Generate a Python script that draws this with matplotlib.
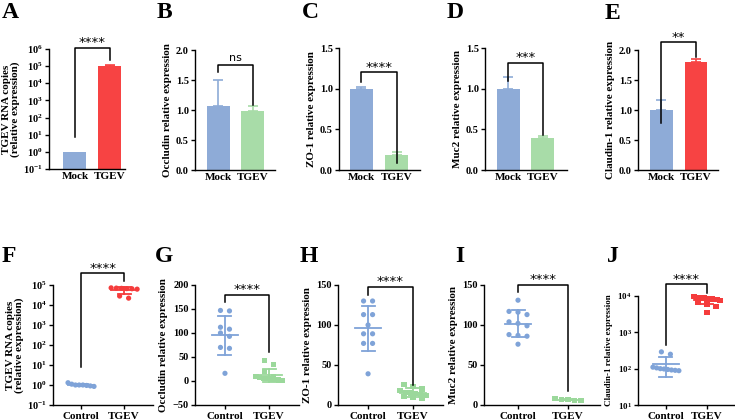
import numpy as np
import matplotlib
matplotlib.use("Agg")
import matplotlib.pyplot as plt

# =========================
# fonts
# =========================
plt.rcParams['font.family'] = 'Liberation Serif'
plt.rcParams['font.weight'] = 'bold'
plt.rcParams['axes.labelweight'] = 'bold'
plt.rcParams['mathtext.fontset'] = 'custom'
plt.rcParams['mathtext.rm'] = 'Liberation Serif:bold'
plt.rcParams['mathtext.bf'] = 'Liberation Serif:bold'
plt.rcParams['mathtext.it'] = 'Liberation Serif:bold'
plt.rcParams['axes.linewidth'] = 1.0

W, H = 735, 420
BLUE = '#8eabd7'
RED = '#f74343'
GREEN = '#a8dca8'
DBLUE = '#7fa3d8'
DGREEN = '#9bd89b'
DRED = '#f53c3c'

# =========================
# data - top row (bars, mean + SD)
# =========================
bar_groups = ["Mock", "TGEV"]
a_mean = [1.0, 1.05e5]
a_err = [0.0, 0.15e5]
b_mean = [1.06, 0.98]
b_err = [0.44, 0.08]
c_mean = [1.0, 0.19]
c_err = [0.02, 0.03]
d_mean = [1.0, 0.39]
d_err = [0.14, 0.03]
e_mean = [1.0, 1.80]
e_err = [0.16, 0.05]

# =========================
# data - bottom row (individual points)
# =========================
dot_groups = ["Control", "TGEV"]
f_ctrl = [1.0, 1.3, 1.1, 0.95, 1.0, 0.85, 0.9, 1.0]
f_tgev = [6.8e4, 7.0e4, 6.5e4, 6.2e4, 7.2e4, 6.6e4, 2.8e4, 2.2e4]
g_ctrl = [146, 147, 112, 108, 100, 93, 70, 68, 16]
g_tgev = [43, 34, 20, 10, 9, 8, 6, 5, 4, 3, 2, 1]
h_ctrl = [130, 130, 113, 113, 100, 89, 89, 77, 77, 39]
h_tgev = [26, 23, 20, 18, 16, 15, 14, 13, 12, 11, 9, 8]
i_ctrl = [131, 113, 116, 117, 99, 102, 104, 88, 87, 86, 76]
i_tgev = [7, 8, 6, 7, 6]
j_ctrl = [290, 250, 110, 105, 100, 98, 95, 92, 90, 88]
j_tgev = [9500, 9200, 9000, 8800, 8800, 8600, 8500, 8300, 8200, 8000,
          7500, 6500, 6000, 5200, 3600]

# bracket (left leg bottom, top, right leg bottom) and label
sig = {
    'A': (7.8, 1.2e6, 2.3e5, '****'),
    'B': (1.63, 1.75, 1.08, 'ns'),
    'C': (1.08, 1.2, 0.08, '****'),
    'D': (1.1, 1.32, 0.43, '***'),
    'E': (0.78, 2.13, 1.88, '**'),
    'F': (10**0.92, 10**5.58, 10**5.2, '****'),
    'G': (165, 179, 61, '****'),
    'H': (138, 148, 25, '****'),
    'I': (141, 150, 17, '****'),
    'J': (10**2.65, 10**4.32, 10**4.09, '****'),
}

fig = plt.figure(figsize=(W / 100, H / 100), dpi=100)


def add_ax(l, r, t, b):
    return fig.add_axes([l / W, 1 - b / H, (r - l) / W, (b - t) / H])


def style(ax, xt_len):
    ax.spines['top'].set_visible(False)
    ax.spines['right'].set_visible(False)
    ax.tick_params(axis='y', direction='out', length=3, width=1, labelsize=7.5, pad=1.5)
    ax.tick_params(axis='x', direction='out', length=xt_len, width=1, labelsize=8, pad=2)
    ax.minorticks_off()


def log_ticks(ax, lo, hi):
    ex = list(range(lo, hi + 1))
    ax.set_yticks([10.0 ** e for e in ex])
    ax.set_yticklabels([r'$\mathbf{10^{%d}}$' % e for e in ex])
    ax.minorticks_off()


def bracket(ax, key):
    yl, yt, yr, txt = sig[key]
    ax.plot([0, 0, 1, 1], [yl, yt, yt, yr], color='black', lw=1.1, clip_on=False, zorder=5)
    if txt == 'ns':
        ax.annotate(txt, xy=(0.5, yt), xytext=(0, 1.5), textcoords='offset points',
                    ha='center', va='bottom', fontsize=8, family='DejaVu Sans',
                    weight='normal', annotation_clip=False)
    else:
        ax.annotate(txt, xy=(0.5, yt), xytext=(0, -1), textcoords='offset points',
                    ha='center', va='bottom', fontsize=9.5, family='DejaVu Sans',
                    weight='normal', annotation_clip=False)


def bars(ax, mean, err, colors, bottom=0.0):
    x = np.arange(len(mean))
    for xi, m, e, c in zip(x, mean, err, colors):
        ax.bar(xi, m - bottom, bottom=bottom, width=0.66, color=c, edgecolor='none', zorder=2)
        if e > 0:
            ax.errorbar(xi, m, yerr=[[0], [e]], fmt='none', ecolor=c, elinewidth=1.2,
                        capsize=3.5, capthick=1.2, zorder=1)
    ax.set_xticks(x)
    ax.set_xticklabels(bar_groups)


def swarm_x(ax, xc, vals, row_h=5.0, step=9.0, max_w=26.0):
    vals = np.asarray(vals, float)
    pts = ax.transData.transform(np.column_stack([np.full(len(vals), xc), vals]))
    order = np.argsort(-pts[:, 1], kind='stable')
    rows, cur = [], [order[0]]
    for i in order[1:]:
        if pts[cur[0], 1] - pts[i, 1] <= row_h:
            cur.append(i)
        else:
            rows.append(cur)
            cur = [i]
    rows.append(cur)
    offs = np.zeros(len(vals))
    for r in rows:
        n = len(r)
        s = step if n < 2 else min(step, max_w / (n - 1))
        for k, i in enumerate(r):
            offs[i] = (k - (n - 1) / 2) * s
    pts[:, 0] += offs
    return ax.transData.inverted().transform(pts)[:, 0]


def dots(ax, ctrl, tgev, c1, c2, m2):
    ppu = ax.transData.transform((1, 0))[0] - ax.transData.transform((0, 0))[0]
    for xc, vals, c, m in [(0, ctrl, c1, 'o'), (1, tgev, c2, m2)]:
        xs = swarm_x(ax, xc, vals)
        ax.scatter(xs, vals, s=14, marker=m, color=c, edgecolors='none', zorder=3, clip_on=False)
        mu = np.mean(vals)
        sd = np.std(vals, ddof=1)
        mw = 13 / ppu
        cw = 6.5 / ppu
        ax.plot([xc - mw, xc + mw], [mu, mu], color=c, lw=1.3, zorder=4)
        ax.plot([xc, xc], [mu - sd, mu + sd], color=c, lw=1.3, zorder=4)
        ax.plot([xc - cw, xc + cw], [mu + sd, mu + sd], color=c, lw=1.3, zorder=4)
        ax.plot([xc - cw, xc + cw], [mu - sd, mu - sd], color=c, lw=1.3, zorder=4)
    ax.set_xticks([0, 1])
    ax.set_xticklabels(dot_groups)


# =========================
# top row
# =========================
axA = add_ax(49, 125, 49, 169)
axA.set_yscale('log')
axA.set_ylim(1e-1, 1e6)
axA.set_xlim(-0.74, 1.43)
bars(axA, a_mean, a_err, [BLUE, RED], bottom=1e-1)
log_ticks(axA, -1, 6)
style(axA, 0)
axA.set_ylabel('TGEV RNA copies\n(relative expression)', fontsize=8, labelpad=2, linespacing=1.0)
bracket(axA, 'A')

axB = add_ax(195, 275, 50, 170)
axB.set_ylim(0, 2.0)
axB.set_xlim(-0.69, 1.66)
bars(axB, b_mean, b_err, [BLUE, GREEN])
axB.set_yticks([0, 0.5, 1.0, 1.5, 2.0])
axB.set_yticklabels(['0.0', '0.5', '1.0', '1.5', '2.0'])
style(axB, 0)
axB.set_ylabel('Occludin relative expression', fontsize=8, labelpad=3)
bracket(axB, 'B')

axC = add_ax(339, 420, 48, 170)
axC.set_ylim(0, 1.5)
axC.set_xlim(-0.64, 1.67)
bars(axC, c_mean, c_err, [BLUE, GREEN])
axC.set_yticks([0, 0.5, 1.0, 1.5])
axC.set_yticklabels(['0.0', '0.5', '1.0', '1.5'])
style(axC, 0)
axC.set_ylabel('ZO-1 relative expression', fontsize=8, labelpad=3)
bracket(axC, 'C')

axD = add_ax(485, 567, 48, 170)
axD.set_ylim(0, 1.5)
axD.set_xlim(-0.69, 1.72)
bars(axD, d_mean, d_err, [BLUE, GREEN])
axD.set_yticks([0, 0.5, 1.0, 1.5])
axD.set_yticklabels(['0.0', '0.5', '1.0', '1.5'])
style(axD, 0)
axD.set_ylabel('Muc2 relative expression', fontsize=8, labelpad=3)
bracket(axD, 'D')

axE = add_ax(638, 718, 50, 170)
axE.set_ylim(0, 2.0)
axE.set_xlim(-0.68, 1.64)
bars(axE, e_mean, e_err, [BLUE, RED])
axE.set_yticks([0, 0.5, 1.0, 1.5, 2.0])
axE.set_yticklabels(['0.0', '0.5', '1.0', '1.5', '2.0'])
style(axE, 0)
axE.set_ylabel('Claudin-1 relative expression', fontsize=8, labelpad=3)
bracket(axE, 'E')

# =========================
# bottom row
# =========================
axF = add_ax(53, 153, 285, 405)
axF.set_yscale('log')
axF.set_ylim(1e-1, 1e5)
axF.set_xlim(-0.65, 1.67)
log_ticks(axF, -1, 5)
dots(axF, f_ctrl, f_tgev, DBLUE, DRED, 'o')
style(axF, 3)
axF.set_ylabel('TGEV RNA copies\n(relative expression)', fontsize=8, labelpad=2, linespacing=1.0)
bracket(axF, 'F')

axG = add_ax(195, 299, 285, 405)
axG.set_ylim(-50, 200)
axG.set_xlim(-0.68, 1.68)
axG.set_yticks([-50, 0, 50, 100, 150, 200])
dots(axG, g_ctrl, g_tgev, DBLUE, DGREEN, 's')
style(axG, 3)
axG.set_ylabel('Occludin relative expression', fontsize=8, labelpad=3)
bracket(axG, 'G')

axH = add_ax(338, 443, 285, 405)
axH.set_ylim(0, 150)
axH.set_xlim(-0.67, 1.67)
axH.set_yticks([0, 50, 100, 150])
dots(axH, h_ctrl, h_tgev, DBLUE, DGREEN, 's')
style(axH, 3)
axH.set_ylabel('ZO-1 relative expression', fontsize=8, labelpad=3)
bracket(axH, 'H')

axI = add_ax(484, 600, 285, 405)
axI.set_ylim(0, 150)
axI.set_xlim(-0.68, 1.64)
axI.set_yticks([0, 50, 100, 150])
dots(axI, i_ctrl, i_tgev, DBLUE, DGREEN, 's')
style(axI, 3)
axI.set_ylabel('Muc2 relative expression', fontsize=8, labelpad=3)
bracket(axI, 'I')

axJ = add_ax(638, 734, 296, 405)
axJ.set_yscale('log')
axJ.set_ylim(1e1, 1e4)
axJ.set_xlim(-0.68, 1.66)
log_ticks(axJ, 1, 4)
dots(axJ, j_ctrl, j_tgev, DBLUE, DRED, 's')
style(axJ, 3)
axJ.tick_params(axis='y', labelsize=6.5)
axJ.set_ylabel('Claudin-1 relative expression', fontsize=6.5, labelpad=3)
bracket(axJ, 'J')

# =========================
# panel letters
# =========================
letters = [('A', 2, 18), ('B', 157, 18), ('C', 302, 18), ('D', 447, 18), ('E', 605, 19),
           ('F', 2, 262), ('G', 155, 262), ('H', 300, 262), ('I', 455, 262), ('J', 607, 262)]
for t, x, y in letters:
    fig.text(x / W, 1 - y / H, t, fontsize=17, weight='bold', ha='left', va='baseline')

fig.savefig('out.png', dpi=100)
